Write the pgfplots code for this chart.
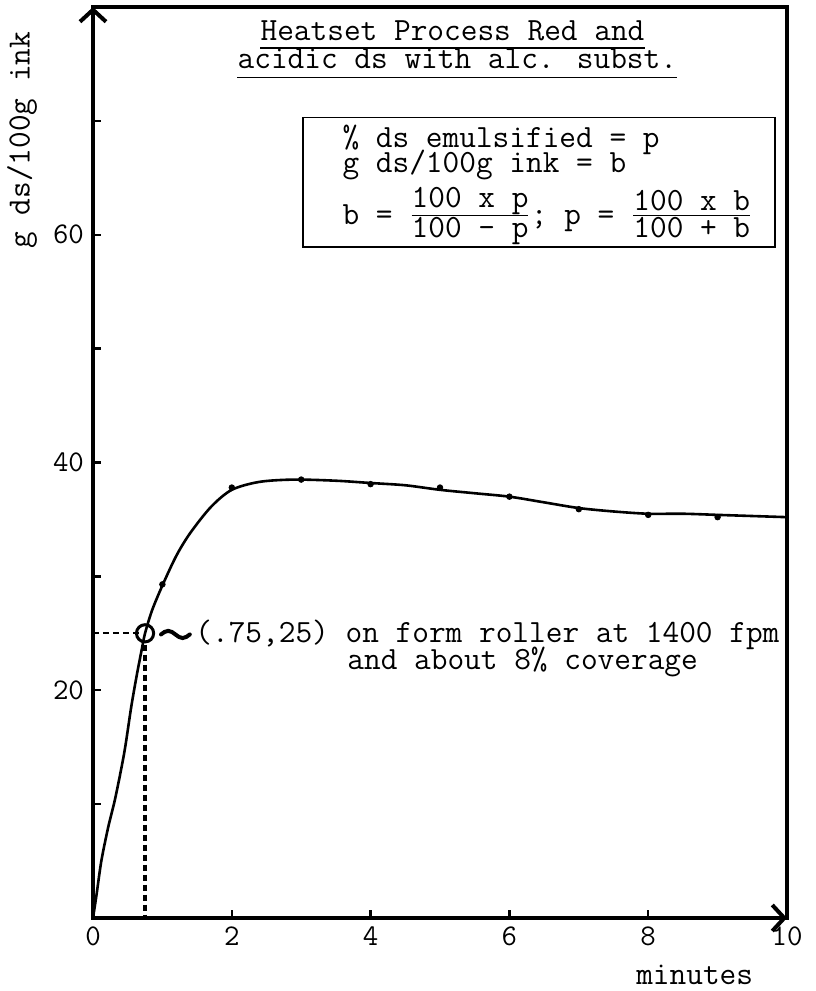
\documentclass[border=0pt]{standalone}
\usepackage{pgfplots}
\pgfplotsset{compat=1.18}
\usetikzlibrary{arrows.meta}

% typewriter face used for every piece of text
\newcommand\tw{\fontsize{16.2}{14}\selectfont\ttfamily}
\newcommand\twtick{\fontsize{15}{15}\selectfont\ttfamily}

\begin{document}
\begin{tikzpicture}
\useasboundingbox (-46.5pt,-36.5pt) rectangle (361pt,459pt);
\begin{axis}[
  at={(0,0)}, anchor=south west,
  scale only axis, width=347pt, height=455.5pt,
  xmin=0, xmax=10, ymin=0, ymax=80,
  axis line style={line width=2pt},
  xtick={0,2,...,10},
  ytick={10,20,...,70},
  yticklabels={,20,,40,,60,},
  tick pos=left,
  tick align=inside,
  major tick length=4pt,
  tick style={line width=1.2pt, black},
  /pgf/number format/assume math mode=true,
  xticklabel style={font=\twtick, yshift=-1pt},
  yticklabel style={font=\twtick, xshift=-1pt},
  clip=false,
]
% arrowheads on the two main axes
\draw[line width=2pt, -{Straight Barb[length=6pt,width=13pt]}]
  (axis cs:0,74) -- (axis cs:0,80);
\draw[line width=2pt, -{Straight Barb[length=6pt,width=13pt]}]
  (axis cs:9.5,0) -- (axis cs:10,0);

% emulsification curve
\addplot[line width=1.3pt, smooth, tension=0.5] coordinates {
  (0,0) (0.05,2) (0.12,5) (0.22,8) (0.32,10.5) (0.45,14.5)
  (0.55,18.5) (0.63,21.3) (0.7,23.5) (0.75,25) (0.85,27) (1,29.2)
  (1.2,31.8) (1.4,33.8) (1.7,36.1) (2,37.6) (2.4,38.3) (2.9,38.5)
  (3.5,38.4) (4,38.2) (4.5,38) (5,37.6) (5.5,37.3) (6,37)
  (6.5,36.5) (7,36) (7.5,35.7) (8,35.5) (8.5,35.5) (9,35.4)
  (9.5,35.3) (10,35.2)
};
% measured points
\addplot[only marks, mark=*, mark size=1.4pt] coordinates {
  (1,29.3) (2,37.8) (3,38.5) (4,38.1) (5,37.8) (6,37.0)
  (7,35.9) (8,35.4) (9,35.2)
};

% reference point (.75,25)
\addplot[line width=1pt, dash pattern=on 3pt off 2pt] coordinates {(0,25) (0.68,25)};
\addplot[line width=1.6pt, dash pattern=on 3pt off 2pt] coordinates {(0.75,24) (0.75,0)};
\addplot[only marks, mark=o, mark size=4.3pt, line width=1.5pt] coordinates {(0.75,25)};
\draw[line width=2pt, line cap=round] (axis cs:0.98,24.9)
  sin ++(3.6pt,1.8pt) cos ++(3.6pt,-1.8pt) sin ++(3.6pt,-1.8pt) cos ++(3.6pt,1.8pt);
\node[anchor=base west, inner sep=0, font=\tw] at (axis cs:1.47,24.2)
  {(.75,25) on form roller at 1400 fpm};
\node[anchor=base west, inner sep=0, font=\tw] at (axis cs:3.66,21.8)
  {and about 8\% coverage};

% title
\node[anchor=base, inner sep=0, font=\tw] (t1) at (axis cs:5.18,77.1)
  {Heatset Process Red and};
\node[anchor=base, inner sep=0, font=\tw] (t2) at (axis cs:5.25,74.6)
  {acidic ds with alc. subst.};
\draw[line width=0.8pt] ([yshift=-4pt]t1.base west) -- ([yshift=-4pt]t1.base east);
\draw[line width=0.8pt] ([yshift=-4.5pt]t2.base west) -- ([yshift=-4.5pt]t2.base east);

% definitions box
\draw[line width=0.8pt] (axis cs:3.03,70.3) rectangle (axis cs:9.83,58.9);
\node[anchor=base west, inner sep=0, font=\tw] at (axis cs:3.59,67.7)
  {\% ds emulsified = p};
\node[anchor=base west, inner sep=0, font=\tw] at (axis cs:3.59,65.5)
  {g ds/100g ink = b};
\node[anchor=base west, inner sep=0, font=\tw] at (axis cs:3.59,60.9)
  {b = $\frac{\hbox{\tw 100 x p}}{\hbox{\tw 100 - p}}$; p = $\frac{\hbox{\tw 100 x b}}{\hbox{\tw 100 + b}}$};

% axis titles
\node[rotate=90, font=\tw, inner sep=0] at ([xshift=-35.5pt]axis cs:0,68.3) {g ds/100g ink};
\node[font=\tw, inner sep=0] at ([yshift=-28.5pt]axis cs:8.67,0) {minutes};
\end{axis}
\end{tikzpicture}
\end{document}
